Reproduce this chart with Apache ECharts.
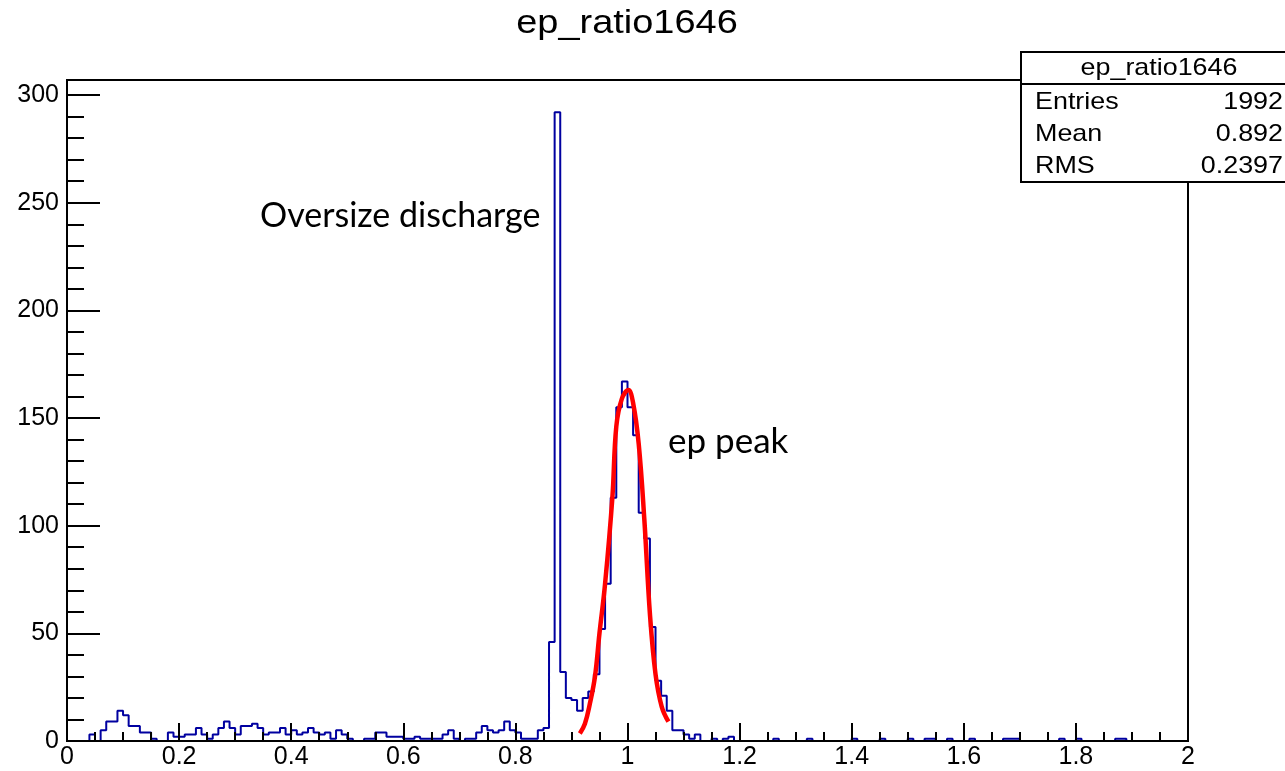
<!DOCTYPE html>
<html>
<head>
<meta charset="utf-8">
<title>ep_ratio1646</title>
<script src="https://cdn.jsdelivr.net/npm/echarts@6.0.0/dist/echarts.min.js"></script>
<style>
  html, body { margin: 0; padding: 0; background: #fff; }
  #chart { width: 1285px; height: 771px; }
</style>
</head>
<body>
<div id="chart"></div>
<script>
// histogram: 200 bins of width 0.01 from 0 to 2
const binStart = 0;
const binWidth = 0.01;
const binCounts = [
  0, 0, 0, 0, 3, 0, 5, 9, 9, 14,
  12, 7, 7, 4, 4, 1, 0, 0, 4, 2,
  2, 3, 3, 6, 3, 1, 3, 6, 9, 6,
  3, 7, 7, 8, 6, 3, 4, 4, 6, 3,
  5, 3, 4, 6, 4, 3, 4, 1, 5, 3,
  1, 0, 0, 1, 1, 4, 4, 2, 2, 2,
  1, 1, 2, 1, 1, 1, 1, 3, 5, 1,
  0, 1, 1, 4, 7, 5, 4, 5, 9, 5,
  4, 1, 1, 1, 5, 6, 46, 292, 32, 20,
  19, 14, 20, 23, 31, 52, 73, 113, 155, 167,
  155, 142, 106, 94, 53, 28, 21, 14, 5, 5,
  3, 1, 3, 0, 0, 1, 0, 1, 2, 0,
  0, 0, 0, 0, 0, 0, 1, 0, 0, 0,
  0, 0, 1, 0, 0, 0, 0, 0, 0, 0,
  1, 0, 0, 0, 0, 1, 0, 0, 0, 0,
  1, 0, 0, 1, 1, 0, 0, 1, 0, 0,
  0, 1, 0, 0, 0, 0, 0, 1, 1, 1,
  0, 0, 0, 0, 0, 0, 0, 1, 0, 0,
  1, 0, 0, 0, 0, 0, 0, 1, 1, 0,
  0, 0, 0, 0, 0, 0, 0, 0, 0, 0
];

// gaussian fit curve
const fitX = [0.915, 0.924, 0.933, 0.942, 0.950, 0.960, 0.973, 0.980, 0.990, 1.0015, 1.010, 1.020, 1.030, 1.040, 1.050, 1.061, 1.073];
const fitY = [3.5, 8, 17.5, 30, 50, 73, 113, 146, 159, 163, 157, 138, 103, 59, 31, 16, 9];

const xTickLabels = ['0', '0.2', '0.4', '0.6', '0.8', '1', '1.2', '1.4', '1.6', '1.8', '2'];
const yTickLabels = ['0', '50', '100', '150', '200', '250', '300'];

const statsTitle = 'ep_ratio1646';
const statsNames = ['Entries', 'Mean', 'RMS'];
const statsValues = ['1992', '0.892', '0.2397'];

const histData = binCounts.map((c, i) => [binStart + i * binWidth, c]);
histData.push([binStart + binCounts.length * binWidth, binCounts[binCounts.length - 1]]);
const fitData = fitX.map((x, i) => [x, fitY[i]]);

const font = 'Liberation Sans, Arial, Helvetica, sans-serif';
const myChart = echarts.init(document.getElementById('chart'));

const statsTexts = [];
statsNames.forEach((name, i) => {
  const y = 102 + i * 32;
  statsTexts.push({
    type: 'text', x: 1035, y: y, scaleX: 1.12,
    style: { text: name, fontSize: 24, fontFamily: font, fill: '#000', textAlign: 'left', textVerticalAlign: 'middle' }
  });
  statsTexts.push({
    type: 'text', x: 1283, y: y, scaleX: 1.12,
    style: { text: statsValues[i], fontSize: 24, fontFamily: font, fill: '#000', textAlign: 'right', textVerticalAlign: 'middle' }
  });
});

const option = {
  animation: false,
  backgroundColor: '#fff',
  grid: {
    left: 67, right: 97, top: 80, bottom: 30,
    show: true, borderColor: '#000', borderWidth: 2
  },
  xAxis: {
    type: 'value', min: 0, max: 2, interval: 0.2, z: 5,
    axisLine: { show: true, lineStyle: { color: '#000', width: 2 } },
    axisTick: { show: true, inside: true, length: 18, lineStyle: { color: '#000', width: 2 } },
    minorTick: { show: true, splitNumber: 4, length: 9, lineStyle: { color: '#000', width: 2 } },
    splitLine: { show: false },
    axisLabel: {
      color: '#000', fontSize: 25, fontFamily: font, margin: 4,
      formatter: v => xTickLabels[Math.round(v / 0.2)]
    }
  },
  yAxis: [{
    type: 'value', min: 0, max: 307, interval: 50, position: 'left', z: 5,
    axisLine: { show: true, lineStyle: { color: '#000', width: 2 } },
    axisTick: { show: true, inside: true, length: 33, lineStyle: { color: '#000', width: 2 } },
    splitLine: { show: false },
    axisLabel: {
      color: '#000', fontSize: 25, fontFamily: font, margin: 8, showMaxLabel: false,
      formatter: v => yTickLabels[Math.round(v / 50)] || ''
    }
  }, {
    type: 'value', min: 0, max: 307, interval: 10, position: 'left', offset: 0, z: 5,
    axisLine: { show: false },
    axisTick: { show: true, inside: true, length: 17, lineStyle: { color: '#000', width: 2 } },
    splitLine: { show: false },
    axisLabel: { show: false }
  }],
  series: [{
    name: 'ep_ratio1646',
    type: 'line',
    step: 'end',
    data: histData,
    showSymbol: false,
    lineStyle: { color: '#0000a0', width: 2 },
    z: 2
  }, {
    name: 'fit',
    type: 'line',
    smooth: 0.4,
    data: fitData,
    showSymbol: false,
    lineStyle: { color: '#ff0000', width: 4.5 },
    z: 3
  }],
  graphic: [
    {
      type: 'text', x: 627, y: 24, scaleX: 1.15, z: 100,
      style: { text: 'ep_ratio1646', fontSize: 33, fontFamily: font, fill: '#000', textAlign: 'center', textVerticalAlign: 'middle' }
    },
    {
      type: 'text', x: 260, y: 216, z: 100,
      style: { text: 'Oversize discharge', fontSize: 34, fontFamily: 'Lato, sans-serif', fill: '#000', textAlign: 'left', textVerticalAlign: 'middle' }
    },
    {
      type: 'text', x: 668, y: 442, z: 100,
      style: { text: 'ep peak', fontSize: 35, fontFamily: 'Lato, sans-serif', fill: '#000', textAlign: 'left', textVerticalAlign: 'middle' }
    },
    {
      type: 'group', z: 100,
      children: [
        { type: 'rect', shape: { x: 1021, y: 52, width: 300, height: 130 }, style: { fill: '#fff', stroke: '#000', lineWidth: 2 } },
        { type: 'line', shape: { x1: 1021, y1: 84, x2: 1321, y2: 84 }, style: { stroke: '#000', lineWidth: 2 } },
        {
          type: 'text', x: 1159, y: 68, scaleX: 1.12,
          style: { text: statsTitle, fontSize: 24, fontFamily: font, fill: '#000', textAlign: 'center', textVerticalAlign: 'middle' }
        }
      ].concat(statsTexts)
    }
  ]
};

myChart.setOption(option);
window.addEventListener('resize', () => myChart.resize());
</script>
</body>
</html>
